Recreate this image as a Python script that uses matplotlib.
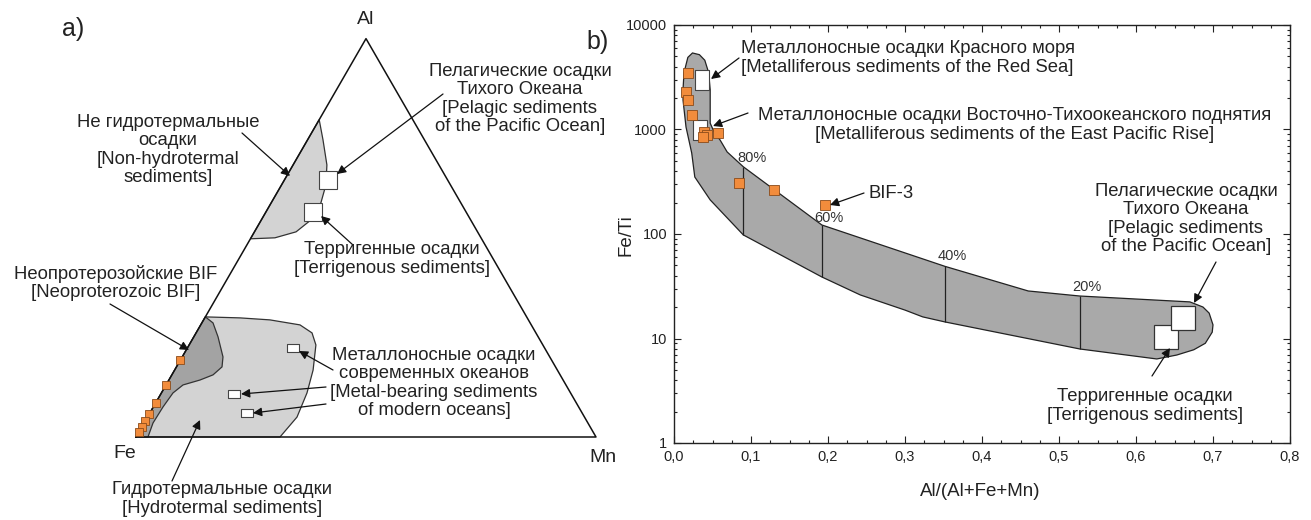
import numpy as np
import matplotlib
matplotlib.use("Agg")
import matplotlib.pyplot as plt
from matplotlib.ticker import MultipleLocator, FuncFormatter, LogLocator

plt.rcParams['font.family'] = ['Liberation Sans', 'DejaVu Sans']

# ---------------- data: ternary diagram (fractions Al, Fe, Mn) ----------------
nonhydro_al = [0.7965, 0.746, 0.683, 0.633, 0.588, 0.545, 0.515, 0.500, 0.4975]
nonhydro_mn = [0.0, 0.0335, 0.0735, 0.0964, 0.108, 0.108, 0.0905, 0.052, 0.0]

hydro_al = [0.0, 0.3015, 0.299, 0.294, 0.2814, 0.2613, 0.231, 0.168, 0.1106, 0.05, 0.0]
hydro_mn = [0.0, 0.0, 0.0766, 0.144, 0.2158, 0.252, 0.2756, 0.301, 0.3164, 0.325, 0.313]

bif_al = [0.0, 0.3015, 0.2864, 0.2513, 0.201, 0.176, 0.156, 0.143, 0.1307, 0.1106, 0.0754, 0.0352, 0.0]
bif_mn = [0.0, 0.0, 0.0242, 0.0527, 0.0886, 0.099, 0.0895, 0.0675, 0.0369, 0.0251, 0.021, 0.0194, 0.026]

neobif_al = [0.193, 0.131, 0.085, 0.058, 0.040, 0.025, 0.013]
neobif_mn = [0.0, 0.0, 0.0, 0.0, 0.0, 0.0, 0.0]

pelagic_t = (0.646, 0.094)      # (Al, Mn)
terrig_t = (0.565, 0.102)
metal_al = [0.2236, 0.108, 0.0603]
metal_mn = [0.2295, 0.159, 0.211]

# ---------------- data: Fe/Ti vs Al/(Al+Fe+Mn) ----------------
field_x = [0.0117, 0.013, 0.018, 0.024, 0.033, 0.040, 0.045, 0.047, 0.047, 0.052, 0.060, 0.069,
           0.090, 0.192, 0.352, 0.460, 0.527, 0.670, 0.687, 0.695, 0.700, 0.699, 0.690, 0.675,
           0.653, 0.627, 0.527, 0.352, 0.323, 0.300, 0.242, 0.192, 0.090, 0.047, 0.027, 0.023,
           0.0156, 0.0117]
field_y = [2400, 3500, 4900, 5400, 5200, 4600, 3500, 2400, 1150, 950, 790, 610,
           440, 122, 49, 28.5, 25.5, 22.4, 20.0, 17.5, 13.5, 11.5, 9.0, 7.8,
           6.95, 6.37, 7.94, 14.4, 16.1, 18.7, 26.1, 38.8, 98, 212, 351, 596,
           1056, 1915]

div_x = [0.0896, 0.192, 0.352, 0.527]
div_top = [440, 122, 49, 25.5]
div_bot = [98, 38.8, 14.4, 7.94]
div_labels = ['80%', '60%', '40%', '20%']

bif_x = [0.018, 0.0156, 0.018, 0.0234, 0.039, 0.043, 0.0377, 0.057, 0.0844, 0.130, 0.196]
bif_y = [3475, 2285, 1916, 1376, 946, 886, 848, 926, 308, 264, 190]

redsea = (0.0364, 2978)
epr = (0.034, 989)
pelagic_r = (0.661, 15.7)
terrig_r = (0.639, 10.3)

xticks = [0.0, 0.1, 0.2, 0.3, 0.4, 0.5, 0.6, 0.7, 0.8]
yticks = [1, 10, 100, 1000, 10000]

# ---------------- figure ----------------
W, H = 1311, 520
fig = plt.figure(figsize=(W / 100, H / 100), dpi=100)

ORANGE = '#f28c3c'
OEDGE = '#8a4b1a'
FS = 13.3


def fp(px, py):
    return (px, H - py)


def ftext(px, py, s, **kw):
    kw.setdefault('ha', 'center')
    kw.setdefault('va', 'center')
    kw.setdefault('fontsize', FS)
    kw.setdefault('linespacing', 1.08)
    kw.setdefault('color', '#222222')
    fig.text(px / W, 1 - py / H, s, **kw)


AP = dict(arrowstyle='-|>', color='#111111', lw=0.9, mutation_scale=13,
          shrinkA=0, shrinkB=0)

# ---------------- ternary axes ----------------
S3 = np.sqrt(3) / 2
FEX, FEY, SC = 136, 437, 460
axt = fig.add_axes([0, 0, 640 / W, 1])
axt.set_xlim(-FEX / SC, (640 - FEX) / SC)
axt.set_ylim((FEY - H) / SC, FEY / SC)
axt.axis('off')


def tern(al, mn):
    al = np.asarray(al, float)
    mn = np.asarray(mn, float)
    return mn + al / 2, al * S3


def pix2t(px, py):
    return (px - FEX) / SC, (FEY - py) / SC


x, y = tern(hydro_al, hydro_mn)
axt.fill(x, y, facecolor='#d3d3d3', edgecolor='#333333', lw=0.9, zorder=1)
x, y = tern(bif_al, bif_mn)
axt.fill(x, y, facecolor='#a3a3a3', edgecolor='#333333', lw=0.9, zorder=2)
x, y = tern(nonhydro_al, nonhydro_mn)
axt.fill(x, y, facecolor='#d3d3d3', edgecolor='#333333', lw=0.9, zorder=1)

tx, ty = tern([0, 1, 0, 0], [0, 0, 1, 0])
axt.plot(tx, ty, color='#111111', lw=1.1, zorder=3)

x, y = tern(neobif_al, neobif_mn)
axt.plot(x, y, 's', ms=6, mfc=ORANGE, mec=OEDGE, mew=0.6, ls='none', zorder=5)
x, y = tern(*pelagic_t)
axt.plot(x, y, 's', ms=12.5, mfc='white', mec='#444444', mew=0.8, zorder=5)
x, y = tern(*terrig_t)
axt.plot(x, y, 's', ms=12.5, mfc='white', mec='#444444', mew=0.8, zorder=5)
rect = [(-0.6, -0.42), (0.6, -0.42), (0.6, 0.42), (-0.6, 0.42), (-0.6, -0.42)]
x, y = tern(metal_al, metal_mn)
axt.plot(x, y, marker=rect, ms=8.5, mfc='white', mec='#444444', mew=0.8, ls='none', zorder=5)

# labels
ftext(73, 29, 'a)', fontsize=18)
ftext(366, 20, 'Al', fontsize=14)
ftext(125, 454, 'Fe', fontsize=14)
ftext(603, 458, 'Mn', fontsize=14)

ftext(168, 150, 'Не гидротермальные\nосадки\n[Non-hydrotermal\nsediments]')
axt.annotate('', xy=pix2t(290, 176), xytext=pix2t(242, 133), arrowprops=AP, zorder=6)

ftext(520, 99, 'Пелагические осадки\nТихого Океана\n[Pelagic sediments\nof the Pacific Ocean]')
axt.annotate('', xy=pix2t(337, 174), xytext=pix2t(443, 94), arrowprops=AP, zorder=6)

ftext(392, 259, 'Терригенные осадки\n[Terrigenous sediments]')
axt.annotate('', xy=pix2t(321, 216), xytext=pix2t(353, 245), arrowprops=AP, zorder=6)

ftext(116, 283, 'Неопротерозойские BIF\n[Neoproterozoic BIF]')
axt.annotate('', xy=pix2t(189, 350), xytext=pix2t(110, 304), arrowprops=AP, zorder=6)

ftext(222, 499, 'Гидротермальные осадки\n[Hydrotermal sediments]')
axt.annotate('', xy=pix2t(200, 420), xytext=pix2t(172, 481), arrowprops=AP, zorder=6)

ftext(434, 383, 'Металлоносные осадки\nсовременных океанов\n[Metal-bearing sediments\nof modern oceans]')
axt.annotate('', xy=pix2t(299, 351), xytext=pix2t(333, 370), arrowprops=AP, zorder=6)
axt.annotate('', xy=pix2t(241, 394), xytext=pix2t(326, 387), arrowprops=AP, zorder=6)
axt.annotate('', xy=pix2t(253, 413), xytext=pix2t(326, 404), arrowprops=AP, zorder=6)

# ---------------- right plot ----------------
L, R, T, B = 674, 1290, 25, 443
ax = fig.add_axes([L / W, 1 - B / H, (R - L) / W, (B - T) / H])
ax.set_yscale('log')
ax.set_xlim(0, 0.8)
ax.set_ylim(1, 10000)

ax.fill(field_x, field_y, facecolor='#a9a9a9', edgecolor='#222222', lw=0.9, zorder=1)
ax.vlines(div_x, div_bot, div_top, color='#222222', lw=0.9, zorder=2)

ax.plot(bif_x, bif_y, 's', ms=7, mfc=ORANGE, mec=OEDGE, mew=0.6, ls='none', zorder=5)

tall = [(-0.37, -0.5), (0.37, -0.5), (0.37, 0.5), (-0.37, 0.5), (-0.37, -0.5)]
ax.plot(*redsea, marker=tall, ms=14, mfc='white', mec='#444444', mew=0.8, zorder=3)
ax.plot(*epr, marker=tall, ms=14, mfc='white', mec='#444444', mew=0.8, zorder=3)
ax.plot(*terrig_r, 's', ms=17, mfc='white', mec='#333333', mew=0.9, zorder=4)
ax.plot(*pelagic_r, 's', ms=17, mfc='white', mec='#333333', mew=0.9, zorder=4)

ax.set_xticks(xticks)
ax.xaxis.set_major_formatter(FuncFormatter(lambda v, p: f'{v:.1f}'.replace('.', ',')))
ax.xaxis.set_minor_locator(MultipleLocator(0.025))
ax.set_yticks(yticks)
ax.yaxis.set_major_formatter(FuncFormatter(lambda v, p: f'{int(round(v))}'))
ax.yaxis.set_minor_locator(LogLocator(base=10, subs=np.arange(2, 10)))
ax.yaxis.set_minor_formatter(FuncFormatter(lambda v, p: ''))
ax.tick_params(which='both', direction='in', top=True, right=True, labelsize=10.5,
               colors='#222222', width=0.8)
ax.tick_params(which='major', length=5, pad=5)
ax.tick_params(which='minor', length=2.5)
for s in ax.spines.values():
    s.set_linewidth(1.0)
    s.set_color('#222222')

ftext(980, 492, 'Al/(Al+Fe+Mn)', fontsize=13.5)
ftext(626, 235, 'Fe/Ti', fontsize=13.5, rotation=90)
ftext(598, 42, 'b)', fontsize=18)

pct_pos = [(752, 158), (829, 218), (952, 256), (1087, 287)]
for (px, py), lab in zip(pct_pos, div_labels):
    ftext(px, py, lab, fontsize=10.5, color='#333333')

ftext(741, 58, 'Металлоносные осадки Красного моря\n[Metalliferous sediments of the Red Sea]',
      ha='left')
ax.annotate('', xy=fp(711, 79), xycoords='figure pixels', xytext=fp(739, 58),
            textcoords='figure pixels', arrowprops=AP, zorder=6)

ftext(1015, 125, 'Металлоносные осадки Восточно-Тихоокеанского поднятия\n'
      '[Metalliferous sediments of the East Pacific Rise]')
ax.annotate('', xy=fp(713, 126), xycoords='figure pixels', xytext=fp(748, 113),
            textcoords='figure pixels', arrowprops=AP, zorder=6)

ftext(868, 193, 'BIF-3', ha='left')
ax.annotate('', xy=fp(830, 205), xycoords='figure pixels', xytext=fp(864, 193),
            textcoords='figure pixels', arrowprops=AP, zorder=6)

ftext(1186, 219, 'Пелагические осадки\nТихого Океана\n[Pelagic sediments\nof the Pacific Ocean]')
ax.annotate('', xy=fp(1194, 303), xycoords='figure pixels', xytext=fp(1216, 262),
            textcoords='figure pixels', arrowprops=AP, zorder=6)

ftext(1145, 406, 'Терригенные осадки\n[Terrigenous sediments]')
ax.annotate('', xy=fp(1170, 348), xycoords='figure pixels', xytext=fp(1152, 376),
            textcoords='figure pixels', arrowprops=AP, zorder=6)

fig.savefig('out.png', dpi=100, facecolor='white')
